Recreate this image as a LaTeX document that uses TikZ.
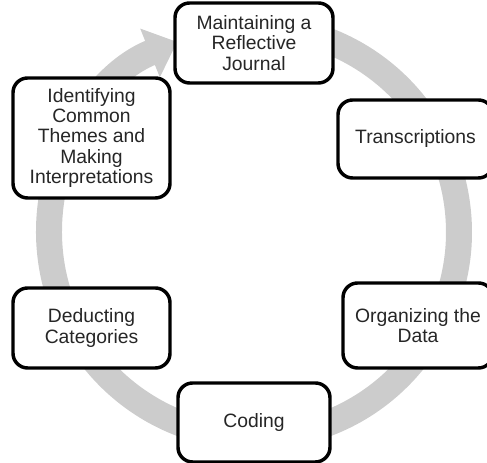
\documentclass[tikz,border=0pt]{standalone}
\usepackage{fontspec}
\setmainfont{Liberation Sans}
\usetikzlibrary{arrows.meta}

\tikzset{
    stage/.style={draw=black, line width=2.6pt, rounded corners=11pt, fill=white,
        align=center, text=black!85, inner sep=2pt,
        font=\fontsize{14.5pt}{15.2pt}\selectfont},
}

\begin{document}
\begin{tikzpicture}[x=0.75pt, y=0.75pt]
    \useasboundingbox (0,0) rectangle (487,463);

    % 圆环箭头
    \coordinate (O) at (254,231);
    \draw[black!20, line width=19.5pt, -{Triangle[width=38pt, length=22pt]}]
        (O) ++(95:205) arc[start angle=95, end angle=-248, radius=205];

    % 各阶段方框
    \node[stage, minimum width=158*0.75pt, minimum height=80*0.75pt] (journal) at (254,420)
        {Maintaining a\\Reflective\\Journal};
    \node[stage, minimum width=155*0.75pt, minimum height=78*0.75pt] (trans) at (415.5,324)
        {Transcriptions};
    \node[stage, minimum width=150*0.75pt, minimum height=85*0.75pt] (organize) at (418,137.5)
        {Organizing the\\Data};
    \node[stage, minimum width=152*0.75pt, minimum height=79*0.75pt] (coding) at (254,40.5)
        {Coding};
    \node[stage, minimum width=157*0.75pt, minimum height=80*0.75pt] (deduct) at (91.5,135)
        {Deducting\\Categories};
    \node[stage, minimum width=157*0.75pt, minimum height=120*0.75pt] (themes) at (91.5,325)
        {Identifying\\Common\\Themes and\\Making\\Interpretations};
\end{tikzpicture}
\end{document}
